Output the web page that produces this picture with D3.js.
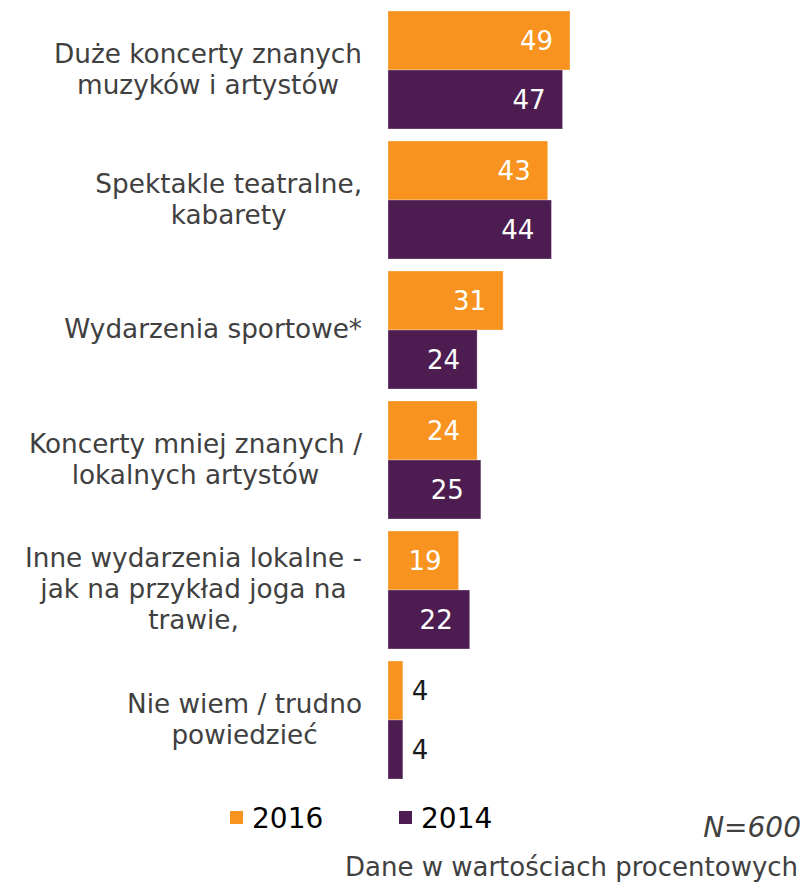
<!DOCTYPE html>
<html>
<head>
<meta charset="utf-8">
<script src="https://cdn.jsdelivr.net/npm/d3@7"></script>
<style>
  html, body { margin: 0; padding: 0; background: #ffffff; }
  svg { display: block; }
</style>
</head>
<body>
<svg id="chart" width="806" height="882"></svg>
<script>
// ---- data ----
const categories = [
  ["Duże koncerty znanych", "muzyków i artystów"],
  ["Spektakle teatralne,", "kabarety"],
  ["Wydarzenia sportowe*"],
  ["Koncerty mniej znanych /", "lokalnych artystów"],
  ["Inne wydarzenia lokalne -", "jak na przykład joga na", "trawie,"],
  ["Nie wiem / trudno", "powiedzieć"]
];
const seriesNames = ["2016", "2014"];
const values2016 = [49, 43, 31, 24, 19, 4];
const values2014 = [47, 44, 24, 25, 22, 4];
const footNote = "N=600";
const unitNote = "Dane w wartościach procentowych";

// ---- styles ----
const colors = { "2016": "#F7931E", "2014": "#4D1D51" };
const font = "'DejaVu Sans', Verdana, sans-serif";
const labelColor = "#404040";

const svg = d3.select("#chart");
const keys = categories.map((c, i) => i);
const seriesValues = { "2016": values2016, "2014": values2014 };

const y0 = d3.scaleBand().domain(keys).range([5, 785]).paddingInner(12 / 130).paddingOuter(6 / 130);
const y1 = d3.scaleBand().domain(seriesNames).range([0, y0.bandwidth()]);
const x = d3.scaleLinear().domain([0, 49]).range([388, 570]);

// bars
const groups = svg.selectAll("g.group").data(keys).join("g")
  .attr("class", "group")
  .attr("transform", d => `translate(0,${y0(d)})`);

groups.selectAll("rect").data(i => seriesNames.map(s => ({ s, v: seriesValues[s][i] }))).join("rect")
  .attr("x", x(0))
  .attr("y", d => y1(d.s))
  .attr("width", d => x(d.v) - x(0))
  .attr("height", y1.bandwidth())
  .attr("fill", d => colors[d.s])
  .attr("stroke", "#ffffff")
  .attr("stroke-opacity", 0.3)
  .attr("stroke-width", 1);

// value labels
groups.selectAll("text.val").data(i => seriesNames.map(s => ({ s, v: seriesValues[s][i] }))).join("text")
  .attr("class", "val")
  .attr("x", d => (x(d.v) - x(0) > 40) ? x(d.v) - 17 : x(d.v) + 9)
  .attr("y", d => y1(d.s) + y1.bandwidth() / 2 + 9)
  .attr("text-anchor", d => (x(d.v) - x(0) > 40) ? "end" : "start")
  .attr("font-family", font)
  .attr("font-size", 26)
  .attr("fill", d => (x(d.v) - x(0) > 40) ? "#ffffff" : "#1a1a1a")
  .text(d => d.v);

// category labels: block right edge at 362, lines centered inside block
const lineH = 31;
keys.forEach(i => {
  const lines = categories[i];
  const cy = y0(i) + y0.bandwidth() / 2;
  const g = svg.append("g");
  const texts = lines.map((ln, j) => g.append("text")
    .attr("y", cy - (lines.length - 1) * lineH / 2 + j * lineH + 8)
    .attr("text-anchor", "middle")
    .attr("font-family", font)
    .attr("font-size", 26.3)
    .attr("fill", labelColor)
    .text(ln));
  const maxW = d3.max(texts, t => t.node().getComputedTextLength());
  const center = 362 - maxW / 2;
  texts.forEach(t => t.attr("x", center));
});

// legend
const legendX = [230, 399];
seriesNames.forEach((s, i) => {
  svg.append("rect")
    .attr("x", legendX[i]).attr("y", 811)
    .attr("width", 13).attr("height", 13)
    .attr("fill", colors[s]);
  svg.append("text")
    .attr("x", legendX[i] + 22).attr("y", 828)
    .attr("font-family", font).attr("font-size", 28)
    .attr("fill", "#000000")
    .text(s);
});

// notes
svg.append("text")
  .attr("x", 801).attr("y", 837)
  .attr("text-anchor", "end")
  .attr("font-family", font).attr("font-size", 28)
  .attr("font-style", "italic")
  .attr("fill", labelColor)
  .text(footNote);

svg.append("text")
  .attr("x", 345).attr("y", 876)
  .attr("font-family", font).attr("font-size", 26)
  .attr("fill", labelColor)
  .text(unitNote);
</script>
</body>
</html>
